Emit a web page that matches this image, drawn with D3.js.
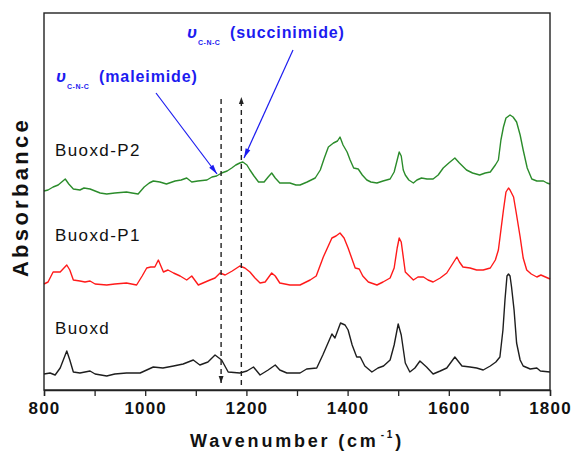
<!DOCTYPE html>
<html>
<head>
<meta charset="utf-8">
<script src="https://cdn.jsdelivr.net/npm/d3@7"></script>
<style>
  html, body { margin: 0; padding: 0; background: #fff; }
  svg { display: block; }
  text { font-family: Arial, "Liberation Sans", Helvetica, sans-serif; }
</style>
</head>
<body>
<svg id="chart" width="574" height="455"></svg>
<script>
// ---- data (wavenumber, cm^-1 / absorbance, arbitrary offset units) ----
const wnBuoxd = [800,812,822,832,845,851,858,871,881,891,901,924,940,963,990,1016,1035,1056,1075,1095,1108,1124,1138,1151,1164,1187,1201,1214,1227,1243,1257,1266,1280,1306,1319,1339,1351,1369,1375,1386,1395,1401,1409,1418,1425,1434,1448,1460,1471,1484,1492,1500,1506,1514,1523,1533,1543,1556,1569,1583,1596,1612,1626,1642,1655,1668,1682,1693,1701,1707,1711,1715,1718,1721,1724,1729,1734,1741,1747,1761,1774,1781,1800];
const absBuoxd = [0.16,0.17,0.15,0.22,0.39,0.30,0.18,0.17,0.18,0.19,0.16,0.14,0.16,0.17,0.17,0.23,0.22,0.24,0.26,0.30,0.25,0.28,0.35,0.30,0.18,0.17,0.19,0.23,0.15,0.20,0.25,0.20,0.17,0.17,0.21,0.22,0.35,0.56,0.52,0.67,0.65,0.60,0.45,0.33,0.33,0.24,0.18,0.22,0.24,0.30,0.45,0.66,0.55,0.27,0.18,0.22,0.29,0.23,0.16,0.19,0.22,0.33,0.24,0.23,0.22,0.20,0.24,0.28,0.33,0.60,0.90,1.14,1.16,1.14,1.03,0.80,0.47,0.30,0.24,0.21,0.22,0.19,0.18];

const wnP1 = [800,808,818,832,845,851,858,871,881,891,901,924,940,963,983,994,1003,1011,1019,1026,1036,1045,1056,1069,1082,1092,1105,1128,1138,1148,1158,1172,1187,1197,1207,1217,1227,1237,1250,1257,1266,1286,1306,1326,1338,1352,1369,1377,1385,1393,1401,1415,1423,1430,1441,1458,1470,1484,1492,1498,1502,1506,1514,1522,1530,1539,1550,1559,1569,1583,1596,1606,1616,1621,1628,1642,1655,1668,1682,1692,1698,1703,1708,1713,1718,1721,1728,1733,1741,1747,1754,1763,1774,1782,1791,1800];
const absP1 = [1.06,1.08,1.18,1.18,1.25,1.20,1.10,1.09,1.08,1.09,1.06,1.05,1.06,1.07,1.05,1.14,1.22,1.23,1.23,1.30,1.18,1.20,1.17,1.14,1.10,1.14,1.05,1.10,1.12,1.17,1.15,1.19,1.24,1.22,1.18,1.12,1.07,1.08,1.17,1.14,1.07,1.05,1.05,1.10,1.14,1.33,1.52,1.54,1.57,1.52,1.42,1.22,1.21,1.14,1.08,1.05,1.08,1.12,1.22,1.42,1.52,1.48,1.18,1.14,1.10,1.13,1.13,1.10,1.08,1.12,1.17,1.25,1.33,1.28,1.23,1.22,1.20,1.20,1.22,1.30,1.40,1.60,1.80,1.98,2.02,2.00,1.93,1.78,1.53,1.32,1.20,1.16,1.13,1.15,1.13,1.11];

const wnP2 = [800,808,818,828,842,849,858,871,879,891,901,911,924,940,963,974,986,998,1008,1016,1029,1042,1059,1071,1082,1092,1104,1122,1132,1141,1151,1162,1171,1179,1187,1193,1201,1207,1215,1224,1235,1243,1250,1257,1266,1286,1298,1306,1320,1336,1346,1354,1362,1372,1380,1385,1391,1399,1405,1412,1421,1429,1438,1446,1458,1470,1484,1492,1498,1502,1506,1510,1514,1521,1530,1537,1546,1557,1569,1579,1589,1600,1612,1621,1635,1647,1661,1672,1682,1692,1698,1703,1708,1713,1721,1727,1734,1741,1747,1755,1764,1774,1787,1794,1800];
const absP2 = [1.99,2.00,2.03,2.05,2.11,2.06,2.01,2.00,2.02,2.01,1.99,1.97,1.96,1.97,1.98,1.97,1.96,2.03,2.07,2.09,2.08,2.06,2.09,2.10,2.12,2.08,2.09,2.10,2.13,2.14,2.17,2.19,2.22,2.25,2.27,2.28,2.25,2.20,2.14,2.08,2.08,2.13,2.17,2.12,2.07,2.07,2.05,2.05,2.08,2.12,2.20,2.32,2.43,2.47,2.49,2.53,2.45,2.38,2.30,2.22,2.21,2.15,2.10,2.08,2.07,2.09,2.11,2.18,2.30,2.38,2.34,2.20,2.15,2.10,2.07,2.10,2.12,2.11,2.11,2.15,2.22,2.27,2.32,2.27,2.20,2.17,2.15,2.17,2.18,2.25,2.30,2.50,2.63,2.72,2.75,2.73,2.68,2.55,2.40,2.22,2.11,2.09,2.09,2.07,2.06];

const seriesNames = ["Buoxd", "Buoxd-P1", "Buoxd-P2"];
const seriesColors = ["#1e1e1e", "#ff1a1a", "#2b8c2b"];
const labelAbs = [0.56, 1.49, 2.34];      // label baseline levels
const xTickValues = [800, 900, 1000, 1100, 1200, 1300, 1400, 1500, 1600, 1700, 1800];
const markerWn = [1150, 1190];            // dashed guide lines
const markerSpan = [0.07, 2.91];

// ---- layout ----
const svg = d3.select("#chart");
const pL = 44, pR = 550, pT = 13, pB = 390;
const x = d3.scaleLinear().domain([800, 1800]).range([pL, pR]);
const y = d3.scaleLinear().domain([0, 3.77]).range([pB, pT]);

const defs = svg.append("defs");
defs.append("marker").attr("id", "blueHead")
  .attr("viewBox", "0 -5 12 10").attr("refX", 12).attr("refY", 0)
  .attr("markerUnits", "userSpaceOnUse").attr("markerWidth", 11).attr("markerHeight", 8)
  .attr("orient", "auto")
  .append("path").attr("d", "M0,-3.2L12,0L0,3.2Z").attr("fill", "#1c1cf0");
defs.append("marker").attr("id", "blackHead")
  .attr("viewBox", "0 -5 10 10").attr("refX", 10).attr("refY", 0)
  .attr("markerUnits", "userSpaceOnUse").attr("markerWidth", 7).attr("markerHeight", 7)
  .attr("orient", "auto")
  .append("path").attr("d", "M0,-3.5L10,0L0,3.5Z").attr("fill", "#222");

// series
const series = [
  { wn: wnBuoxd, a: absBuoxd },
  { wn: wnP1, a: absP1 },
  { wn: wnP2, a: absP2 }
];
const line = d3.line().x(d => x(d[0])).y(d => y(d[1]));
series.forEach((s, i) => {
  const pts = s.wn.map((w, k) => [w, s.a[k]]);
  svg.append("path").datum(pts)
    .attr("d", line).attr("fill", "none")
    .attr("stroke", seriesColors[i]).attr("stroke-width", 1.4)
    .attr("stroke-linejoin", "round");
  svg.append("text")
    .attr("x", 55).attr("y", y(labelAbs[i]))
    .attr("font-size", 17).attr("letter-spacing", 1.4)
    .attr("fill", "#111").text(seriesNames[i]);
});

// dashed guide lines
svg.append("line")
  .attr("x1", x(markerWn[0])).attr("x2", x(markerWn[0]))
  .attr("y1", y(markerSpan[1]) ).attr("y2", y(markerSpan[0]))
  .attr("stroke", "#222").attr("stroke-width", 1.4).attr("stroke-dasharray", "5,4")
  .attr("marker-end", "url(#blackHead)");
svg.append("line")
  .attr("x1", x(markerWn[1])).attr("x2", x(markerWn[1]))
  .attr("y1", y(markerSpan[0] - 0.02)).attr("y2", y(markerSpan[1] + 0.02))
  .attr("stroke", "#222").attr("stroke-width", 1.4).attr("stroke-dasharray", "5,4")
  .attr("marker-end", "url(#blackHead)");

// blue annotations
const blue = "#1c1cf0";
function annot(xp, yb, label) {
  const g = svg.append("g").attr("fill", blue).attr("font-weight", "bold");
  g.append("text").attr("x", xp).attr("y", yb).attr("font-size", 17)
    .attr("font-style", "italic").text("υ");
  g.append("text").attr("x", xp + 11).attr("y", yb + 7).attr("font-size", 7)
    .attr("letter-spacing", 0.5).text("C-N-C");
  g.append("text").attr("x", xp + 43).attr("y", yb).attr("font-size", 16)
    .attr("letter-spacing", 0.9).text(label);
}
annot(187, 38, "(succinimide)");
annot(56, 82, "(maleimide)");
svg.append("line").attr("x1", 156).attr("y1", 93).attr("x2", 217).attr("y2", 174)
  .attr("stroke", blue).attr("stroke-width", 1.2).attr("marker-end", "url(#blueHead)");
svg.append("line").attr("x1", 293).attr("y1", 50).attr("x2", 244).attr("y2", 158)
  .attr("stroke", blue).attr("stroke-width", 1.2).attr("marker-end", "url(#blueHead)");

// frame
svg.append("rect").attr("x", pL).attr("y", pT)
  .attr("width", pR - pL).attr("height", pB - pT)
  .attr("fill", "none").attr("stroke", "#222").attr("stroke-width", 1.4);

// x axis
const xAxis = d3.axisBottom(x).tickValues(xTickValues).tickSize(6).tickPadding(6)
  .tickFormat(d => d % 200 === 0 ? d : "");
const gx = svg.append("g").attr("transform", `translate(0,${pB})`).call(xAxis);
gx.select(".domain").attr("stroke", "#222").attr("stroke-width", 1.4);
gx.selectAll(".tick line").attr("stroke", "#222").attr("stroke-width", 1.3);
gx.selectAll(".tick text").attr("font-size", 17).attr("font-weight", "bold")
  .attr("letter-spacing", 1.2).attr("fill", "#111")
  .attr("font-family", "Arial, 'Liberation Sans', sans-serif");

// axis titles
const xt = svg.append("text").attr("x", (pL + pR) / 2).attr("y", 447)
  .attr("text-anchor", "middle").attr("font-size", 18).attr("font-weight", "bold")
  .attr("letter-spacing", 2.8).attr("fill", "#111");
xt.append("tspan").text("Wavenumber (cm");
xt.append("tspan").attr("dy", -9).attr("font-size", 10).attr("dx", 2).text("-1");
xt.append("tspan").attr("dy", 9).text(")");

svg.append("text").attr("transform", "translate(28,197) rotate(-90)")
  .attr("text-anchor", "middle").attr("font-size", 22).attr("font-weight", "bold")
  .attr("letter-spacing", 3.3).attr("fill", "#111").text("Absorbance");
</script>
</body>
</html>
